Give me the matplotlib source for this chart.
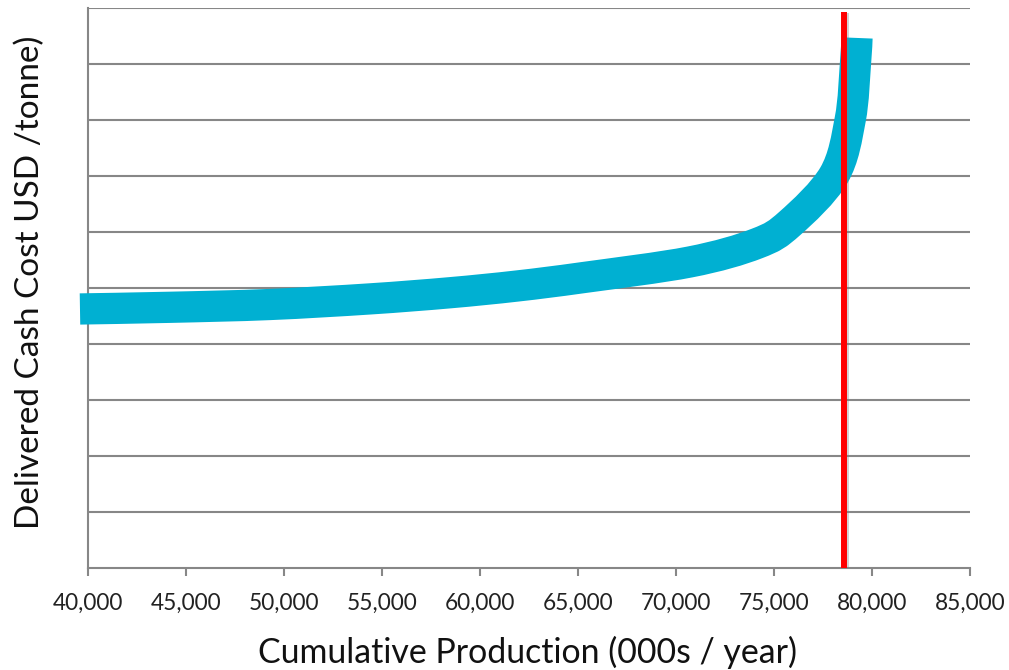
import matplotlib
matplotlib.use("Agg")
import matplotlib.pyplot as plt
import matplotlib.patheffects as pe
from matplotlib.path import Path
from matplotlib.patches import PathPatch
from matplotlib.ticker import FuncFormatter

# Data
production = [39576, 44170, 49274, 54378, 58461, 61881, 65249, 70711,
              74130, 75814, 78060, 78892, 79158, 79235]
cost = [46.2, 46.5, 47.0, 48.0, 49.1, 50.3, 51.8, 54.6,
        57.9, 61.5, 70.1, 80.1, 90.1, 94.6]
demand_x = 78570
demand_top = 99.3
x_ticks = [40000, 45000, 50000, 55000, 60000, 65000, 70000, 75000, 80000, 85000]
y_grid = [0, 10, 20, 30, 40, 50, 60, 70, 80, 90, 100]

plt.rcParams['font.family'] = ['Lato', 'DejaVu Sans']

fig = plt.figure(figsize=(10.09, 6.70), dpi=100)
ax = fig.add_axes([0.0875, 0.1527, 0.8738, 0.8358])

grid_c = '#878787'
for y in y_grid[1:]:
    ax.axhline(y, color=grid_c, lw=1.5, zorder=1)

# smoothed line through the data points (Excel-style smoothed line)
pts = list(zip(production, cost))
verts = [pts[0]]
codes = [Path.MOVETO]
n = len(pts)
for i in range(n - 1):
    p0 = pts[i - 1] if i > 0 else pts[i]
    p1 = pts[i]
    p2 = pts[i + 1]
    p3 = pts[i + 2] if i + 2 < n else pts[i + 1]
    c1 = (p1[0] + (p2[0] - p0[0]) / 6.0, p1[1] + (p2[1] - p0[1]) / 6.0)
    c2 = (p2[0] - (p3[0] - p1[0]) / 6.0, p2[1] - (p3[1] - p1[1]) / 6.0)
    verts += [c1, c2, p2]
    codes += [Path.CURVE4] * 3
curve = PathPatch(Path(verts, codes), fill=False, edgecolor='#00B0D2', lw=22.5,
                  capstyle='butt', joinstyle='round', zorder=3, clip_on=False)
ax.add_patch(curve)

ax.plot([demand_x, demand_x], [0, demand_top], color='#FF0000', lw=4.3,
        solid_capstyle='butt', zorder=4,
        path_effects=[pe.SimpleLineShadow(offset=(1.2, -0.8), shadow_color='gray', alpha=0.35),
                      pe.Normal()])

ax.set_xlim(40000, 85000)
ax.set_ylim(0, 100)
ax.set_xticks(x_ticks)
ax.xaxis.set_major_formatter(FuncFormatter(lambda v, p: f"{int(v):,}"))
ax.set_yticks([])

for s in ['top', 'right']:
    ax.spines[s].set_visible(False)
for s in ['left', 'bottom']:
    ax.spines[s].set_color(grid_c)
    ax.spines[s].set_linewidth(1.5)

ax.tick_params(axis='x', direction='out', length=6, width=1.5, color=grid_c,
               labelsize=16.3, labelcolor='#222222', pad=12)

ax.set_xlabel('Cumulative Production (000s / year)', fontsize=24.4,
              color='#111111', va='center')
ax.xaxis.set_label_coords(0.498, -0.1505)
ax.set_ylabel('Delivered Cash Cost USD /tonne)', fontsize=24,
              color='#111111', va='center', ha='center')
ax.yaxis.set_label_coords(-0.0661, 0.509)

fig.savefig('out.png', dpi=100)
